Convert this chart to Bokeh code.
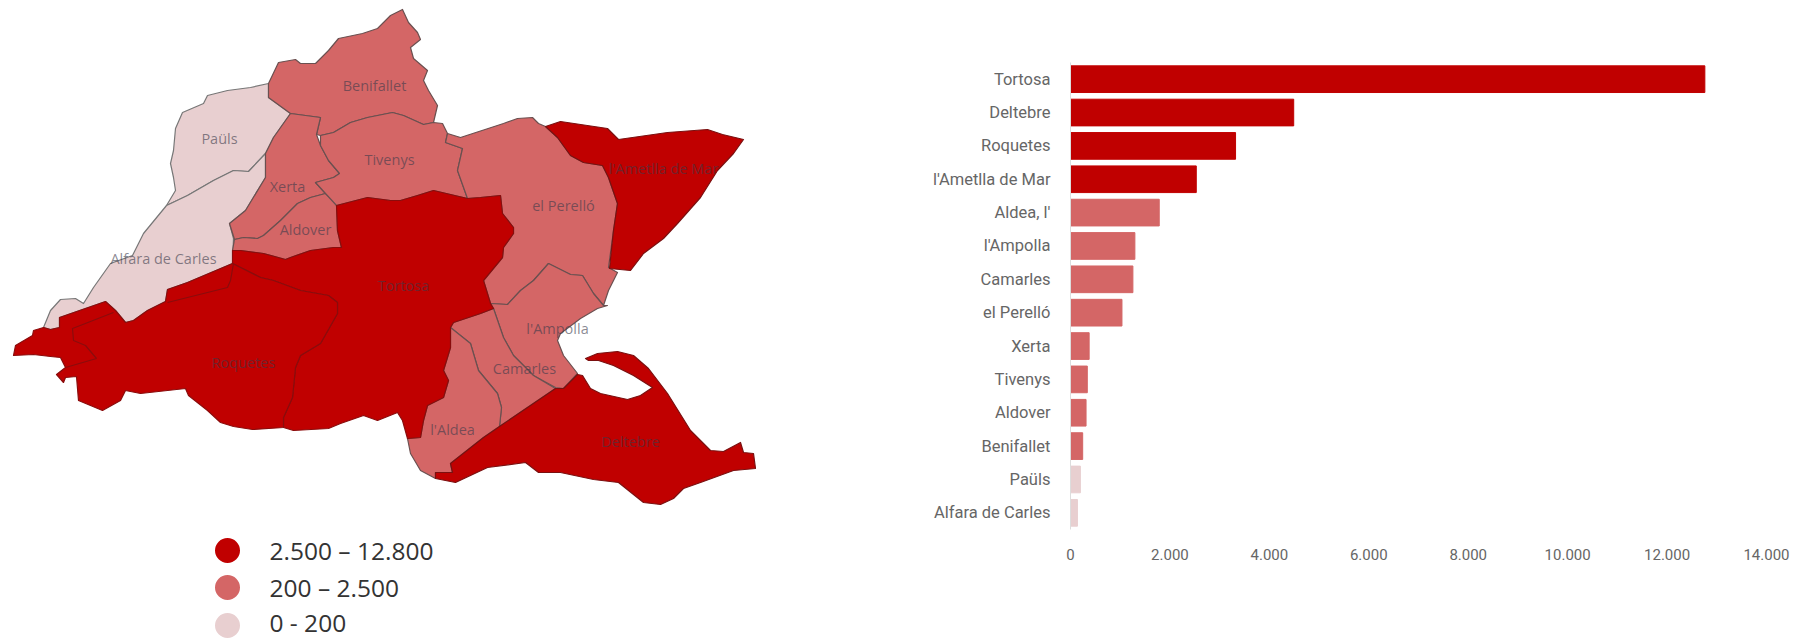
from bokeh.plotting import figure
from bokeh.layouts import row
from bokeh.models import Range1d, FactorRange, ColumnDataSource, FixedTicker
from bokeh.core.properties import value
from bokeh.embed import file_html
from bokeh.resources import INLINE

# ---------- bar data ----------
municipalities = ["Tortosa", "Deltebre", "Roquetes", "l'Ametlla de Mar", "Aldea, l'", "l'Ampolla", "Camarles",
                  "el Perelló", "Xerta", "Tivenys", "Aldover", "Benifallet", "Paüls", "Alfara de Carles"]
population = [12760, 4490, 3320, 2530, 1785, 1295, 1255, 1035, 375, 338, 313, 245, 199, 140]
x_tick_values = [0, 2000, 4000, 6000, 8000, 10000, 12000, 14000]
x_tick_labels = ["0", "2.000", "4.000", "6.000", "8.000", "10.000", "12.000", "14.000"]

DARK, MID, LIGHT = "#C00000", "#D46666", "#E8CFD0"
def band(v):
    return DARK if v >= 2500 else (MID if v >= 200 else LIGHT)

# ---------- map outlines ----------
benifallet = [(268,83),(278,62),(295,59),(300,63),(315,63),(328,50),(338,38),(362,33),(377,28),(390,15),(402,9),(408,22),(417,32),(420,39),(410,47),(413,58),(427,70),(423,80),(428,90),(437,105),(433,122),(423,124),(403,115),(392,112),(367,117),(350,122),(333,132),(320,135),(316,134),(320,117),(290,113),(268,97)]
pauls = [(268,83),(250,87),(227,90),(207,95),(203,103),(182,112),(175,128),(173,150),(170,163),(173,177),(175,190),(166,205),(187,195),(213,180),(233,170),(248,171),(265,153),(273,137),(290,113),(268,97)]
alfara = [(166,205),(143,233),(132,255),(110,263),(93,287),(83,303),(75,298),(60,299),(50,310),(43,327),(50,329),(59,327),(59,317),(105,301),(115,310),(125,322),(133,320),(147,310),(165,301),(167,289),(187,282),(232,263),(233,238),(229,223),(245,210),(265,177),(265,153),(248,171),(233,170),(213,180),(187,195)]
xerta = [(290,113),(320,117),(316,134),(320,145),(328,160),(339,173),(333,177),(315,182),(325,193),(310,197),(297,203),(280,220),(263,235),(257,238),(243,237),(234,239),(229,223),(245,210),(265,177),(265,153),(273,137)]
aldover = [(325,193),(336,203),(337,230),(341,247),(333,247),(310,250),(290,257),(285,259),(263,253),(240,250),(232,250),(234,239),(243,237),(257,238),(263,235),(280,220),(297,203),(310,197)]
tivenys = [(320,135),(333,132),(350,122),(367,117),(392,112),(403,115),(423,124),(433,122),(442,123),(447,133),(445,142),(462,148),(457,170),(467,198),(433,190),(417,195),(400,200),(390,200),(367,197),(336,205),(325,193),(315,182),(333,177),(339,173),(328,160),(320,145)]
perello = [(447,133),(460,137),(503,123),(517,118),(532,117),(538,123),(545,126),(557,137),(570,155),(583,162),(602,165),(608,177),(617,203),(613,230),(608,267),(617,272),(608,290),(603,305),(593,293),(582,275),(570,274),(548,263),(533,280),(520,290),(507,304),(490,303),(483,280),(502,257),(503,247),(513,233),(513,227),(502,213),(500,195),(480,197),(467,198),(457,170),(462,148),(445,142)]
ametlla = [(545,126),(560,121),(607,128),(618,139),(667,132),(707,129),(722,134),(743,139),(733,153),(717,170),(700,197),(677,223),(663,238),(643,253),(630,270),(609,268),(613,230),(617,203),(608,177),(602,165),(583,162),(570,155),(557,137)]
ampolla = [(490,303),(507,304),(520,290),(533,280),(548,263),(570,274),(582,275),(593,293),(603,305),(607,305),(597,308),(580,318),(560,333),(557,340),(563,355),(577,373),(563,388),(555,387),(533,375),(513,355),(503,337),(493,308)]
camarles = [(493,308),(480,313),(453,322),(450,327),(470,343),(478,370),(497,393),(501,407),(499,426),(555,388),(533,375),(513,355),(503,337)]
aldea = [(450,327),(470,343),(478,370),(497,393),(501,407),(499,426),(483,437),(450,463),(452,472),(435,472),(435,478),(420,470),(410,453),(407,438),(420,437),(423,420),(427,405),(443,397),(448,380),(443,370),(450,347)]
tortosa = [(232,250),(240,250),(263,253),(285,259),(290,257),(310,250),(333,247),(341,247),(337,230),(336,205),(367,197),(390,200),(400,200),(417,195),(433,190),(467,198),(480,197),(500,195),(502,213),(513,227),(513,233),(503,247),(502,257),(483,280),(490,303),(493,308),(480,313),(453,322),(450,327),(450,347),(443,370),(448,380),(443,397),(427,405),(423,420),(420,437),(407,438),(402,420),(397,412),(377,420),(363,415),(340,423),(328,428),(293,430),(283,427),(283,417),(292,397),(295,367),(300,355),(320,343),(337,313),(337,302),(328,295),(300,290),(273,280),(260,277),(232,263)]
roquetes = [(232,263),(260,277),(273,280),(300,290),(328,295),(337,302),(337,313),(320,343),(300,355),(295,367),(292,397),(283,417),(283,427),(252,429),(233,426),(220,422),(207,410),(188,395),(185,388),(140,393),(125,390),(120,400),(102,410),(78,400),(76,376),(65,377),(63,382),(56,374),(65,367),(60,357),(50,356),(33,354),(13,355),(15,345),(32,335),(33,330),(43,327),(50,329),(59,327),(59,317),(105,301),(115,310),(125,322),(133,320),(147,310),(165,301),(167,289),(187,282)]
deltebre = [(435,472),(452,472),(450,463),(483,437),(499,426),(555,388),(563,388),(577,374),(582,375),(590,388),(600,393),(627,399),(640,395),(652,387),(633,375),(613,365),(598,360),(588,360),(585,358),(597,353),(617,351),(633,355),(648,368),(667,393),(690,430),(710,450),(723,451),(740,442),(743,452),(753,453),(755,468),(733,470),(700,482),(683,488),(673,498),(660,504),(643,502),(618,482),(593,479),(560,472),(538,472),(525,462),(487,467),(455,482),(435,478)]
inner_a = [(167,302),(227,287),(230,280),(233,263)]
inner_b = [(113,312),(72,328),(73,340),(85,345),(96,358),(65,367)]

shapes = [(pauls, LIGHT, "#777777"), (alfara, LIGHT, "#777777"),
          (benifallet, MID, "#6a5050"), (xerta, MID, "#6a5050"), (aldover, MID, "#6a5050"),
          (tivenys, MID, "#6a5050"), (perello, MID, "#6a5050"), (ampolla, MID, "#6a5050"),
          (camarles, MID, "#6a5050"), (aldea, MID, "#6a5050"),
          (tortosa, DARK, "#8a0c0c"), (roquetes, DARK, "#8a0c0c"), (ametlla, DARK, "#7a1010"),
          (deltebre, DARK, "#7a1010")]

map_label_names = ["Paüls", "Benifallet", "Xerta", "Tivenys", "Aldover", "Alfara de Carles", "Tortosa", "Roquetes",
                   "l'Ametlla de Mar", "el Perelló", "l'Ampolla", "Camarles", "l'Aldea", "Deltebre"]
map_label_x = [219, 374, 287, 389, 305, 163, 403, 243, 663, 563, 557, 524, 452, 630]
map_label_y = [138, 85, 186, 159, 229, 258, 285, 362, 168, 205, 328, 368, 429, 441]

legend_labels = ["2.500 – 12.800", "200 – 2.500", "0 - 200"]
legend_colors = [DARK, MID, LIGHT]
legend_x = [227, 227, 227]
legend_y = [550, 587, 625]
legend_text_x = [269, 269, 269]
legend_text_y = [550, 587, 622]

# ---------- map panel ----------
m = figure(width=900, height=639, output_backend="svg", toolbar_location=None,
           x_range=Range1d(0, 900), y_range=Range1d(639, 0),
           min_border=0, outline_line_color=None, frame_align=False)
m.axis.visible = False
m.grid.visible = False
m.patches(xs=[[pt[0] for pt in s[0]] for s in shapes], ys=[[pt[1] for pt in s[0]] for s in shapes],
          fill_color=[s[1] for s in shapes], line_color=[s[2] for s in shapes], line_width=1.2, line_join="round")
inner = [inner_a, inner_b]
m.multi_line(xs=[[pt[0] for pt in l] for l in inner], ys=[[pt[1] for pt in l] for l in inner],
             line_color="#8a0c0c", line_width=1.2)
m.text(map_label_x, map_label_y, text=map_label_names, text_align="center", text_baseline="middle",
       text_font=value("Open Sans"), text_font_size="14.5px", text_color="#3a3a4a", text_alpha=0.6)
m.scatter(legend_x, legend_y, size=25, color=legend_colors, line_color=None)
m.text(legend_text_x, legend_text_y, text=legend_labels, text_align="left", text_baseline="middle",
       text_font=value("Open Sans"), text_font_size="24.5px", text_color="#333333")

# ---------- bar panel ----------
src = ColumnDataSource(dict(name=municipalities, value=population, color=[band(v) for v in population]))
b = figure(width=905, height=639, output_backend="svg", toolbar_location=None,
           x_range=Range1d(0, 14000), y_range=FactorRange(factors=municipalities[::-1], range_padding=0),
           min_border_left=170, min_border_right=39, min_border_top=62, min_border_bottom=110,
           outline_line_color=None, frame_align=False)
b.hbar(y="name", right="value", left=0, height=0.8, color="color", source=src)
b.grid.visible = False
b.xaxis.ticker = FixedTicker(ticks=x_tick_values)
b.xaxis.major_label_overrides = dict(zip(x_tick_values, x_tick_labels))
b.xaxis.axis_line_color = None
b.xaxis.major_tick_line_color = None
b.xaxis.minor_tick_line_color = None
b.xaxis.major_label_standoff = 13
b.yaxis.axis_line_color = "#dddddd"
b.yaxis.major_tick_line_color = None
b.yaxis.minor_tick_line_color = None
b.yaxis.major_label_standoff = 14
for ax in (b.xaxis, b.yaxis):
    ax.major_label_text_font = "Roboto"
    ax.major_label_text_color = "#666666"
b.xaxis.major_label_text_font_size = "15px"
b.yaxis.major_label_text_font_size = "16.5px"

open("out.html", "w").write(file_html(row(m, b, spacing=0), INLINE))
